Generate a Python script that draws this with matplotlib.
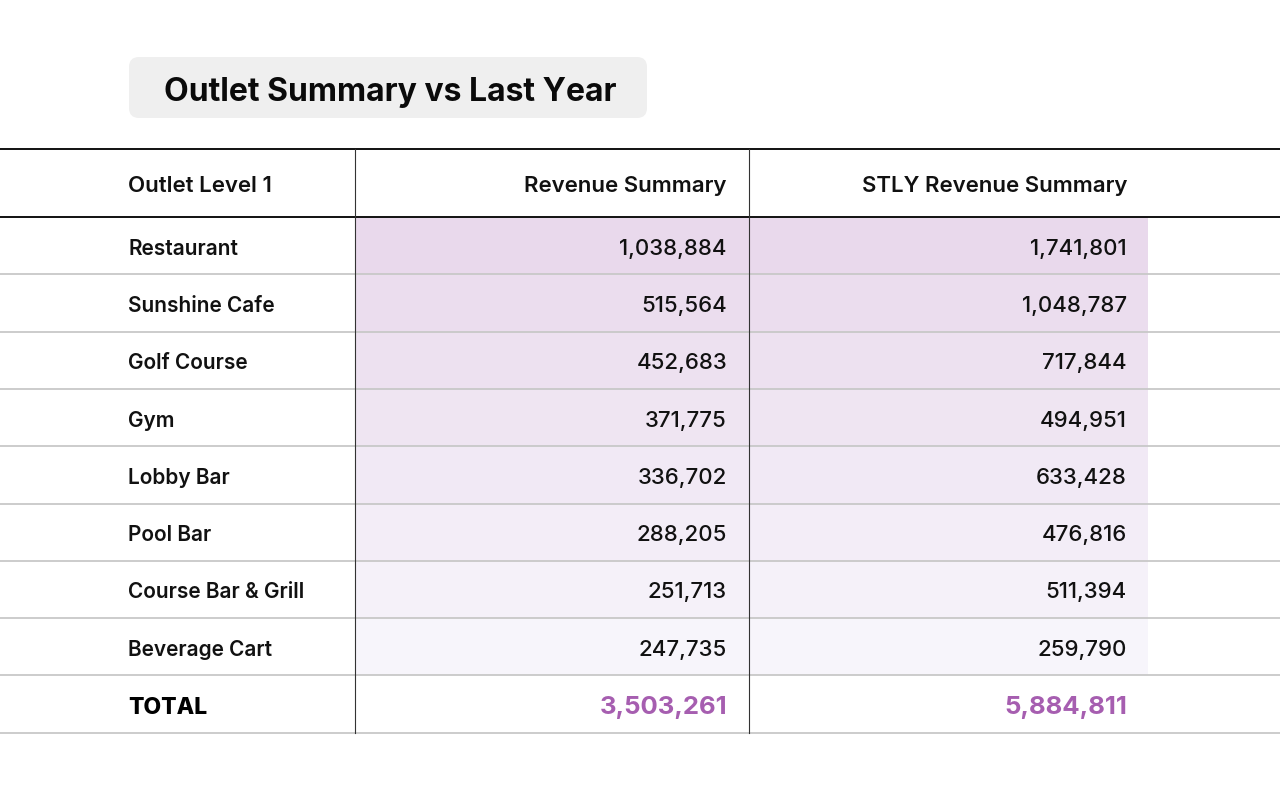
import matplotlib.pyplot as plt
from matplotlib.patches import FancyBboxPatch, Rectangle
import numpy as np

plt.rcParams['font.family'] = ['Inter', 'DejaVu Sans']

title = "Outlet Summary vs Last Year"
headers = ["Outlet Level 1", "Revenue Summary", "STLY Revenue Summary"]
outlets = ["Restaurant", "Sunshine Cafe", "Golf Course", "Gym", "Lobby Bar",
           "Pool Bar", "Course Bar & Grill", "Beverage Cart"]
revenue = [1038884, 515564, 452683, 371775, 336702, 288205, 251713, 247735]
stly_revenue = [1741801, 1048787, 717844, 494951, 633428, 476816, 511394, 259790]
total_revenue = 3503261
total_stly = 5884811

W, H = 1280, 800
fig = plt.figure(figsize=(12.8, 8), dpi=100)
ax = fig.add_axes([0, 0, 1, 1])
ax.set_xlim(0, W)
ax.set_ylim(H, 0)
ax.axis('off')

# title box
box = FancyBboxPatch((129, 57), 518, 61, boxstyle="round,pad=0,rounding_size=10",
                     fc="#efefef", ec="none")
ax.add_patch(box)
ax.text(164, 89, title, fontsize=23, fontweight='bold', va='center_baseline', ha='left',
        color='#0a0a0a')

# geometry
header_top, header_bot = 149, 217
row_h = 57.3
col_x = [128, 727, 1127]
vlines = [355, 749]
n = len(outlets)
dy = 1  # small nudge so text sits like the reference

# shaded cells (light purple fading downward)
c_top = np.array([233, 217, 236]) / 255
c_bot = np.array([247, 245, 251]) / 255
for i in range(n):
    t = i / (n - 1)
    col = c_top * (1 - t) + c_bot * t
    y0 = header_bot + i * row_h
    ax.add_patch(Rectangle((355, y0), 1148 - 355, row_h, fc=col, ec='none'))

# header
for j, h in enumerate(headers):
    ax.text(col_x[j], (header_top + header_bot) / 2 + dy, h, fontsize=16, fontweight='semibold',
            ha='left' if j == 0 else 'right', va='center_baseline', color='#111111')

# rows
for i in range(n):
    yc = header_bot + (i + 0.5) * row_h + dy
    ax.text(col_x[0], yc, outlets[i], fontsize=15, fontweight='semibold',
            ha='left', va='center_baseline', color='#111111')
    ax.text(col_x[1], yc, f"{revenue[i]:,}", fontsize=16, fontweight='medium', ha='right',
            va='center_baseline', color='#111111')
    ax.text(col_x[2], yc, f"{stly_revenue[i]:,}", fontsize=16, fontweight='medium', ha='right',
            va='center_baseline', color='#111111')

# total row
yc = header_bot + (n + 0.5) * row_h + dy
ax.text(col_x[0], yc, "TOTAL", fontsize=16.5, fontweight='heavy', ha='left',
        va='center_baseline', color='#000000')
ax.text(col_x[1], yc, f"{total_revenue:,}", fontsize=18.5, fontweight='bold', ha='right',
        va='center_baseline', color='#a65eb0')
ax.text(col_x[2], yc, f"{total_stly:,}", fontsize=18.5, fontweight='bold', ha='right',
        va='center_baseline', color='#a65eb0')

# lines
ax.plot([0, W], [header_top, header_top], color='#111111', lw=1.4)
ax.plot([0, W], [header_bot, header_bot], color='#111111', lw=1.4)
for i in range(1, n + 2):
    y = header_bot + i * row_h
    ax.plot([0, W], [y, y], color='#c8c8c8', lw=1.3)
bottom = header_bot + (n + 1) * row_h
for x in vlines:
    ax.plot([x, x], [header_top, bottom], color='#333333', lw=0.8)

fig.savefig("out.png", dpi=100)
